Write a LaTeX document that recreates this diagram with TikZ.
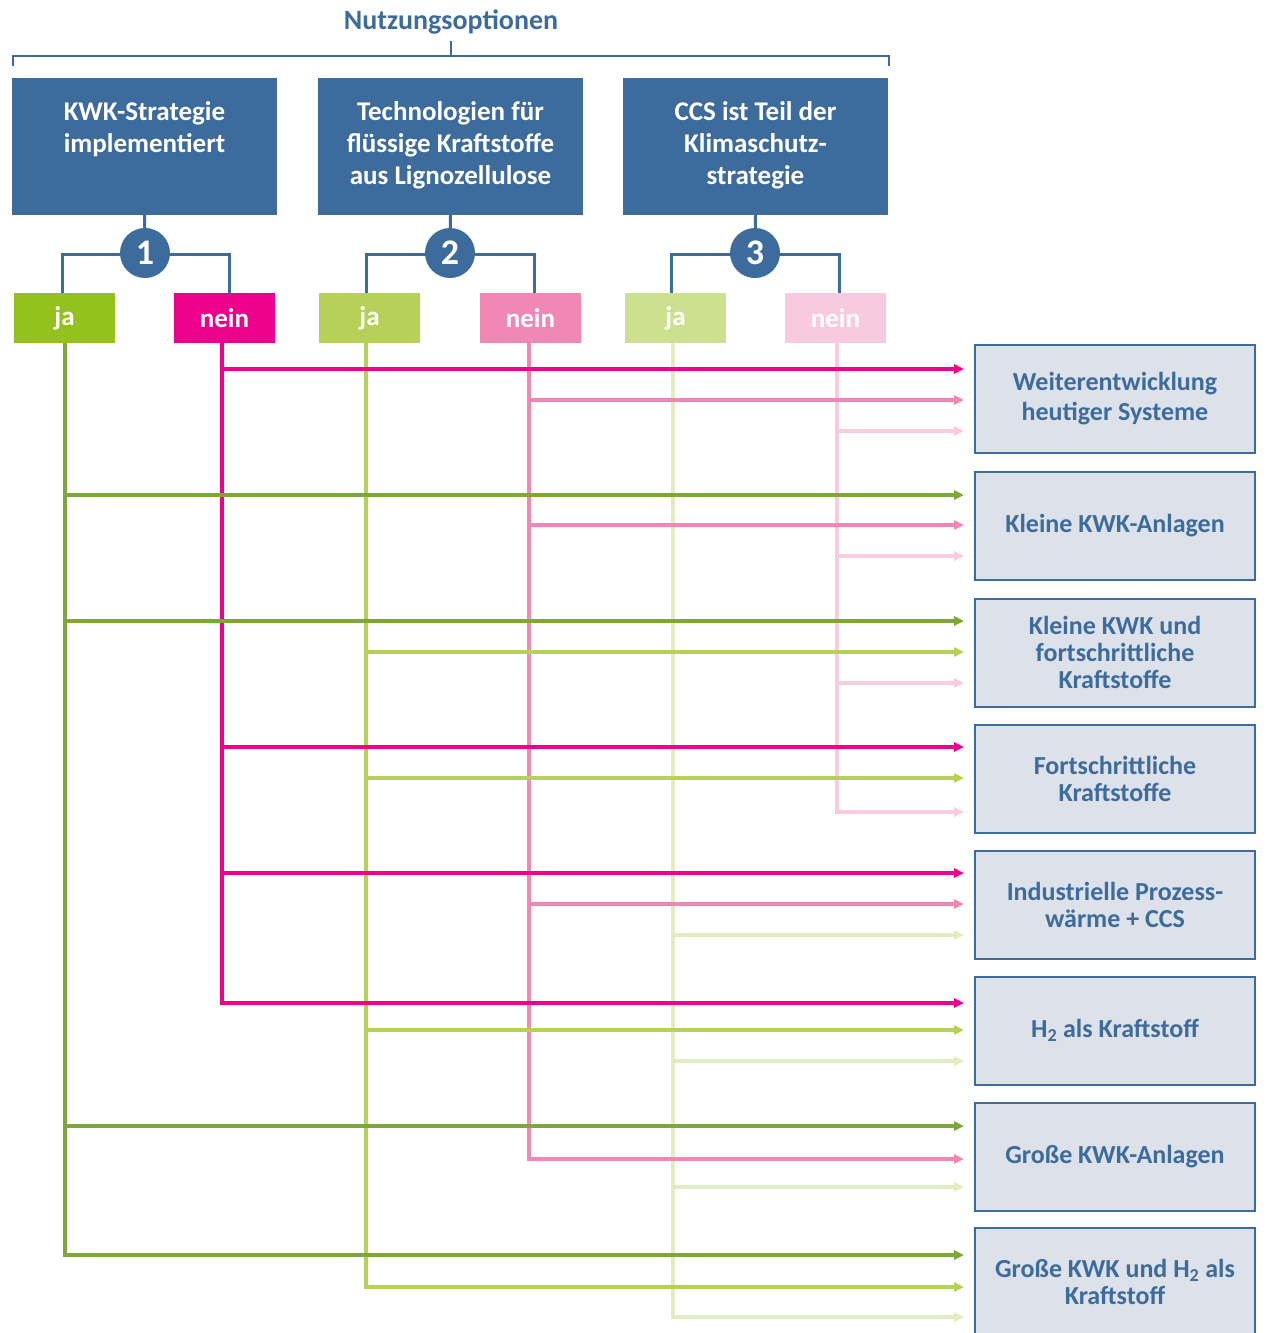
\documentclass[tikz,border=0pt]{standalone}
\usepackage{fontspec}
\setmainfont{Carlito}
\usetikzlibrary{arrows.meta,calc}
\definecolor{blu}{HTML}{3D6B9B}
\definecolor{boxfill}{HTML}{DDE1EA}
\definecolor{cja1}{HTML}{95C11F}
\definecolor{cn1}{HTML}{EC008C}
\definecolor{cja2}{HTML}{B5D157}
\definecolor{cn2}{HTML}{F088B6}
\definecolor{cja3}{HTML}{CDE08F}
\definecolor{cn3}{HTML}{F8CADF}
\definecolor{lja1}{HTML}{7FA638}
\definecolor{ln1}{HTML}{EC008C}
\definecolor{lja2}{HTML}{B5D157}
\definecolor{ln2}{HTML}{F088B6}
\definecolor{lja3}{HTML}{E1ECBF}
\definecolor{ln3}{HTML}{F8CBDF}
\newcommand\myarr[4]{\draw[#1,arrw] (#2 |- 0,#4) -- (#3.west |- 0,#4);}
\begin{document}
\begin{tikzpicture}[x=1pt,y=-1pt,
  title/.style={text=blu,font=\bfseries\fontsize{28}{32}\selectfont,inner sep=0pt},
  brk/.style={draw=blu,line width=2pt},
  topbox/.style={fill=blu,minimum width=265pt,minimum height=137pt,inner sep=0pt,text=white,align=center,font=\bfseries\fontsize{27}{32}\selectfont},
  num/.style={circle,fill=blu,minimum size=50pt,inner sep=0pt,text=white,font=\bfseries\fontsize{36}{36}\selectfont},
  yn/.style={minimum width=101pt,minimum height=50pt,inner sep=0pt,text=white,font=\bfseries\fontsize{27}{30}\selectfont},
  outbox/.style={fill=boxfill,draw=blu,line width=2pt,minimum width=280pt,minimum height=108pt,inner sep=0pt,text=blu,align=center,font=\bfseries\fontsize{26}{27}\selectfont},
  conn/.style={draw=blu,line width=3pt},
  vl/.style={line width=3.5pt},
  arrw/.style={line width=3.5pt,-{Triangle[length=10pt,width=9pt]},shorten >=10pt},
  sja1/.style={draw=lja1},sn1/.style={draw=ln1},
  sja2/.style={draw=lja2},sn2/.style={draw=ln2},
  sja3/.style={draw=lja3},sn3/.style={draw=ln3}]
\useasboundingbox (0,0) rectangle (1267,1333);
% title and bracket
\node[title] (ttl) at (451,22) {Nutzungsoptionen};
\draw[brk] (13,66) -- (13,56) -- (889,56) -- (889,66);
\draw[brk] (ttl.south |- 0,57) -- (ttl.south |- 0,41);
% top boxes
\node[topbox] (t1) at (144.5,146.5) {KWK-Strategie\\implementiert\\[6pt]\mbox{}};
\node[topbox] (t2) at (450.5,146.5) {Technologien für\\flüssige Kraftstoffe\\aus Lignozellulose\\[-26pt]\mbox{}};
\node[topbox] (t3) at (755.5,146.5) {CCS ist Teil der\\Klimaschutz-\\strategie\\[-26pt]\mbox{}};
% ja / nein
\node[yn,fill=cja1] (j1) at (64.5,318) {ja};
\node[yn,fill=cn1]  (n1) at (224.5,318) {nein};
\node[yn,fill=cja2] (j2) at (369.5,318) {ja};
\node[yn,fill=cn2]  (n2) at (530.5,318) {nein};
\node[yn,fill=cja3] (j3) at (675.5,318) {ja};
\node[yn,fill=cn3]  (n3) at (835.5,318) {nein};
% connectors to circles
\draw[conn] (t1.south) -- (145,240);
\draw[conn] (t2.south) -- (450,240);
\draw[conn] (t3.south) -- (755,240);
\coordinate (k1) at (145,254);
\coordinate (k2) at (450,254);
\coordinate (k3) at (755,254);
\draw[conn] (k1) -| ([xshift=-2.5pt]j1.north); \draw[conn] (k1) -| ([xshift=4.5pt]n1.north);
\draw[conn] (k2) -| ([xshift=-3.5pt]j2.north); \draw[conn] (k2) -| ([xshift=3.5pt]n2.north);
\draw[conn] (k3) -| ([xshift=-4.5pt]j3.north); \draw[conn] (k3) -| ([xshift=3.5pt]n3.north);
\node[num] (c1) at (145,253) {1};
\node[num] (c2) at (450,253) {2};
\node[num] (c3) at (755,253) {3};
% result boxes
\node[outbox] (o1) at (1115,399) {Weiterentwicklung\\[3pt]heutiger Systeme};
\node[outbox] (o2) at (1115,525.5) {Kleine KWK-Anlagen};
\node[outbox] (o3) at (1115,652.5) {Kleine KWK und\\fortschrittliche\\Kraftstoffe};
\node[outbox] (o4) at (1115,778.5) {Fortschrittliche\\Kraftstoffe};
\node[outbox] (o5) at (1115,904.5) {Industrielle Prozess-\\wärme + CCS};
\node[outbox] (o6) at (1115,1030.5) {H\textsubscript{2} als Kraftstoff};
\node[outbox] (o7) at (1115,1156.5) {Große KWK-Anlagen};
\node[outbox] (o8) at (1115,1282) {Große KWK und H\textsubscript{2} als\\Kraftstoff};
% line columns
\coordinate (vj1) at ([xshift=0.5pt]j1.south);
\coordinate (vn1) at ([xshift=-2.5pt]n1.south);
\coordinate (vj2) at ([xshift=-3.5pt]j2.south);
\coordinate (vn2) at ([xshift=-1.5pt]n2.south);
\coordinate (vj3) at ([xshift=-2.5pt]j3.south);
\coordinate (vn3) at ([xshift=1.5pt]n3.south);
% vertical lines
\draw[vl,sja1] (vj1) -- (vj1 |- 0,1256.75);
\draw[vl,sn1]  (vn1) -- (vn1 |- 0,1004.75);
\draw[vl,sja2] (vj2) -- (vj2 |- 0,1288.75);
\draw[vl,sn2]  (vn2) -- (vn2 |- 0,1160.75);
\draw[vl,sja3] (vj3) -- (vj3 |- 0,1318.75);
\draw[vl,sn3]  (vn3) -- (vn3 |- 0,813.75);
% arrows
\myarr{sn1}{vn1}{o1}{369}
\myarr{sn2}{vn2}{o1}{400}
\myarr{sn3}{vn3}{o1}{431}
\myarr{sja1}{vj1}{o2}{495}
\myarr{sn2}{vn2}{o2}{525}
\myarr{sn3}{vn3}{o2}{556}
\myarr{sja1}{vj1}{o3}{621}
\myarr{sja2}{vj2}{o3}{652}
\myarr{sn3}{vn3}{o3}{683}
\myarr{sn1}{vn1}{o4}{747}
\myarr{sja2}{vj2}{o4}{778}
\myarr{sn3}{vn3}{o4}{812}
\myarr{sn1}{vn1}{o5}{873}
\myarr{sn2}{vn2}{o5}{904}
\myarr{sja3}{vj3}{o5}{935}
\myarr{sn1}{vn1}{o6}{1003}
\myarr{sja2}{vj2}{o6}{1030}
\myarr{sja3}{vj3}{o6}{1061}
\myarr{sja1}{vj1}{o7}{1126}
\myarr{sn2}{vn2}{o7}{1159}
\myarr{sja3}{vj3}{o7}{1187}
\myarr{sja1}{vj1}{o8}{1255}
\myarr{sja2}{vj2}{o8}{1287}
\myarr{sja3}{vj3}{o8}{1317}
\end{tikzpicture}
\end{document}
